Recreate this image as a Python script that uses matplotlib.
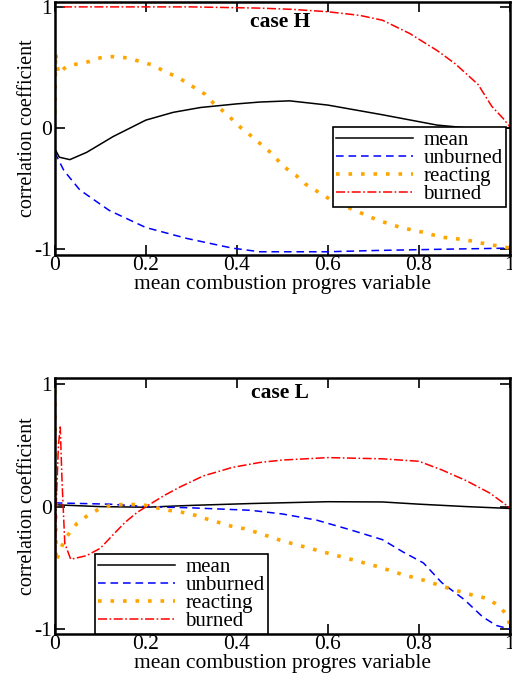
import matplotlib
matplotlib.use("Agg")
import matplotlib.pyplot as plt

plt.rcParams['font.family'] = ['Liberation Serif', 'DejaVu Serif']
plt.rcParams['lines.scale_dashes'] = False

# ---------------- case H ----------------
x_mean_H = [0, 0.01, 0.033, 0.07, 0.128, 0.2, 0.26, 0.32, 0.4, 0.45, 0.516, 0.6, 0.72, 0.84, 0.94, 1.0]
mean_H = [-0.17, -0.24, -0.26, -0.2, -0.07, 0.066, 0.13, 0.17, 0.2, 0.215, 0.225, 0.19, 0.11, 0.025, -0.01, 0.0]

x_unb_H = [0, 0.02, 0.055, 0.12, 0.2, 0.29, 0.39, 0.45, 0.6, 0.7, 0.84, 1.0]
unb_H = [-0.2, -0.35, -0.51, -0.68, -0.82, -0.91, -0.99, -1.02, -1.02, -1.01, -1.0, -0.99]

x_rea_H = [0, 0.002, 0.008, 0.026, 0.05, 0.077, 0.10, 0.128, 0.158, 0.187, 0.215, 0.24, 0.27, 0.30,
           0.33, 0.35, 0.38, 0.40, 0.43, 0.455, 0.48, 0.50, 0.53, 0.55, 0.58, 0.61, 0.66, 0.71, 0.76,
           0.81, 0.85, 0.90, 0.94, 0.985, 1.0]
rea_H = [0.12, 0.62, 0.45, 0.51, 0.53, 0.55, 0.58, 0.59, 0.58, 0.55, 0.52, 0.47, 0.42, 0.35,
         0.28, 0.20, 0.11, 0.03, -0.06, -0.14, -0.22, -0.31, -0.39, -0.46, -0.53, -0.60, -0.68, -0.76, -0.82,
         -0.86, -0.90, -0.92, -0.95, -0.98, -0.99]

x_bur_H = [0.018, 0.1, 0.2, 0.3, 0.45, 0.52, 0.6, 0.67, 0.72, 0.78, 0.84, 0.88, 0.93, 0.96, 0.985, 1.0]
bur_H = [1.0, 1.0, 1.0, 1.0, 0.99, 0.98, 0.96, 0.93, 0.89, 0.78, 0.64, 0.53, 0.36, 0.18, 0.08, 0.01]

# ---------------- case L ----------------
x_mean_L = [0, 0.1, 0.2, 0.3, 0.43, 0.6, 0.72, 0.8, 0.905, 1.0]
mean_L = [0.015, 0.0, -0.005, 0.01, 0.025, 0.04, 0.038, 0.02, 0.0, -0.015]

x_unb_L = [0, 0.005, 0.12, 0.2, 0.3, 0.43, 0.5, 0.575, 0.65, 0.72, 0.765, 0.81, 0.85, 0.9, 0.94, 0.97, 1.0]
unb_L = [0.03, 0.03, 0.02, 0.0, -0.01, -0.03, -0.06, -0.11, -0.19, -0.27, -0.37, -0.46, -0.62, -0.76, -0.9, -0.97, -1.0]

x_rea_L = [0, 0.003, 0.011, 0.022, 0.033, 0.048, 0.073, 0.097, 0.123, 0.16, 0.2, 0.225, 0.25, 0.278,
           0.308, 0.333, 0.361, 0.388, 0.416, 0.443, 0.5, 0.55, 0.6, 0.66, 0.71, 0.76, 0.81, 0.86,
           0.905, 0.95, 0.967, 0.98, 0.99, 0.996, 1.0]
rea_L = [0.95, -0.45, -0.36, -0.27, -0.21, -0.14, -0.07, -0.02, 0.01, 0.02, 0.01, -0.01, -0.03, -0.045,
         -0.07, -0.10, -0.13, -0.16, -0.18, -0.21, -0.28, -0.33, -0.38, -0.44, -0.49, -0.55, -0.6, -0.66,
         -0.71, -0.75, -0.79, -0.83, -0.87, -0.92, -0.97]

x_bur_L = [0, 0.003, 0.008, 0.012, 0.016, 0.022, 0.035, 0.07, 0.1, 0.128, 0.154, 0.18, 0.205, 0.24,
           0.275, 0.326, 0.39, 0.45, 0.5, 0.6, 0.72, 0.8, 0.85, 0.905, 0.956, 1.0]
bur_L = [-0.77, 0.0, 0.5, 0.65, 0.2, -0.3, -0.43, -0.40, -0.34, -0.23, -0.13, -0.05, 0.01, 0.09,
         0.16, 0.25, 0.32, 0.36, 0.38, 0.40, 0.39, 0.37, 0.30, 0.21, 0.11, -0.01]

labels = ["mean", "unburned", "reacting", "burned"]
x_ticks = [0, 0.2, 0.4, 0.6, 0.8, 1.0]
x_ticklabels = ["0", "0.2", "0.4", "0.6", "0.8", "1"]
y_ticks = [-1, 0, 1]
y_ticklabels = ["-1", "0", "1"]

fig = plt.figure(figsize=(5.12, 6.83), dpi=100)
ax1 = fig.add_axes([0.107, 0.6266, 0.889, 0.3704])
ax2 = fig.add_axes([0.107, 0.0717, 0.889, 0.3749])

FS = 15.5
FS_Y = 14.5
FS_LEG = 15


def draw(ax, data, title, ylim, leg_kw):
    (xm, ym), (xu, yu), (xr, yr), (xb, yb) = data
    ax.plot(xm, ym, color='black', lw=1.1, label=labels[0])
    ax.plot(xu, yu, color='#0000ff', lw=1.1, dashes=(5.5, 3.5), label=labels[1])
    ax.plot(xr, yr, color='#ffa500', lw=2.6, dashes=(2.6, 6.4), dash_capstyle='butt', label=labels[2])
    ax.plot(xb, yb, color='#ff0000', lw=1.1, dashes=(6.5, 1.8, 1.2, 1.8), label=labels[3])
    ax.set_xlim(0, 1)
    ax.set_ylim(*ylim)
    ax.set_xticks(x_ticks)
    ax.set_xticklabels(x_ticklabels)
    ax.set_yticks(y_ticks)
    ax.set_yticklabels(y_ticklabels)
    ax.tick_params(direction='in', length=7, width=1.2, top=True, right=True,
                   labelsize=FS, pad=2, colors='black')
    ax.tick_params(axis='x', pad=1)
    for s in ax.spines.values():
        s.set_linewidth(1.8)
    ax.set_xlabel("mean combustion progres variable", fontsize=FS, labelpad=0)
    ax.set_ylabel("correlation coefficient", fontsize=FS_Y, labelpad=-2)
    ax.text(0.495, leg_kw.pop('title_y'), title, transform=ax.transAxes, ha='center',
            va='center', fontsize=FS, fontweight='bold')
    leg = ax.legend(fontsize=FS_LEG, handlelength=3.7, handletextpad=0.5, borderpad=0.15,
                    labelspacing=-0.08, fancybox=False, framealpha=1, edgecolor='black',
                    borderaxespad=0, **leg_kw)
    leg.get_frame().set_linewidth(1.2)


draw(ax1, [(x_mean_H, mean_H), (x_unb_H, unb_H), (x_rea_H, rea_H), (x_bur_H, bur_H)],
     "case H", (-1.047, 1.04),
     dict(loc='lower right', bbox_to_anchor=(0.991, 0.19), title_y=0.92))
draw(ax2, [(x_mean_L, mean_L), (x_unb_L, unb_L), (x_rea_L, rea_L), (x_bur_L, bur_L)],
     "case L", (-1.04, 1.05),
     dict(loc='lower left', bbox_to_anchor=(0.088, 0.0), title_y=0.94))

fig.savefig("out.png", dpi=100)
